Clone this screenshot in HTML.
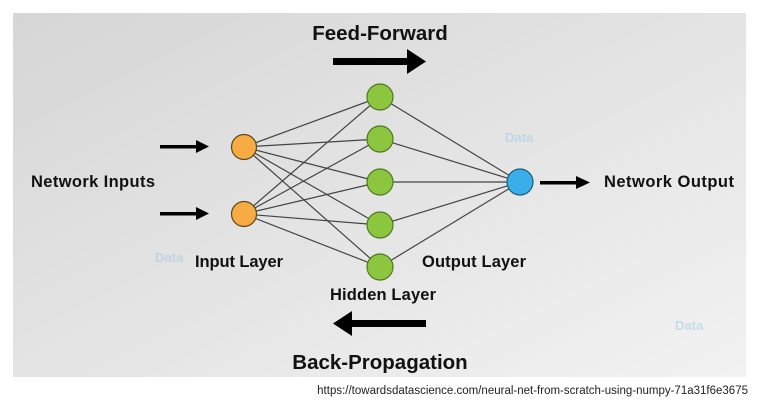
<!DOCTYPE html>
<html><head><style>
body{margin:0;width:760px;height:415px;background:#fff;overflow:hidden;font-family:"Liberation Sans",sans-serif;}
</style></head><body>
<svg width="760" height="415" xmlns="http://www.w3.org/2000/svg">
<defs>
<linearGradient id="bg" x1="0" y1="0" x2="1" y2="1">
<stop offset="0" stop-color="#d6d6d6"/><stop offset="1" stop-color="#f2f2f2"/>
</linearGradient>
</defs>
<rect x="13" y="13" width="733" height="364" fill="url(#bg)"/>
<g stroke="#444" stroke-width="1.2">
<line x1="244" y1="147" x2="380" y2="97"/><line x1="244" y1="147" x2="380" y2="139"/><line x1="244" y1="147" x2="380" y2="182"/><line x1="244" y1="147" x2="380" y2="225"/><line x1="244" y1="147" x2="380" y2="267"/>
<line x1="244" y1="214" x2="380" y2="97"/><line x1="244" y1="214" x2="380" y2="139"/><line x1="244" y1="214" x2="380" y2="182"/><line x1="244" y1="214" x2="380" y2="225"/><line x1="244" y1="214" x2="380" y2="267"/>
<line x1="380" y1="97" x2="520" y2="182"/><line x1="380" y1="139" x2="520" y2="182"/><line x1="380" y1="182" x2="520" y2="182"/><line x1="380" y1="225" x2="520" y2="182"/><line x1="380" y1="267" x2="520" y2="182"/>
</g>
<g stroke="#5a4a1a" stroke-width="1.2" fill="#f6ab45">
<circle cx="244" cy="147" r="12.5"/><circle cx="244" cy="214" r="12.5"/>
</g>
<g stroke="#4b7a1e" stroke-width="1.2" fill="#8cc63f">
<circle cx="380" cy="97" r="13"/><circle cx="380" cy="139" r="13"/><circle cx="380" cy="182" r="13"/><circle cx="380" cy="225" r="13"/><circle cx="380" cy="267" r="13"/>
</g>
<circle cx="520" cy="182" r="13" fill="#3aaee8" stroke="#1d5a80" stroke-width="1.2"/>
<g fill="#000">
<rect x="160" y="145" width="38" height="3.5"/><polygon points="196,140 209,146.5 196,153"/>
<rect x="160" y="212" width="38" height="3.5"/><polygon points="196,207 209,213.5 196,220"/>
<rect x="540" y="181" width="38" height="3.5"/><polygon points="576,176 590,182.5 576,189"/>
<rect x="333" y="58" width="77" height="7"/><polygon points="407,49 426,61.5 407,74"/>
<rect x="349" y="320" width="77" height="7"/><polygon points="352,311 333,323.5 352,336"/>
</g>
<g font-weight="bold" fill="#111" font-size="16.5">
<text x="380" y="40" text-anchor="middle" font-size="20.5">Feed-Forward</text>
<text x="380" y="369" text-anchor="middle" font-size="20.5">Back-Propagation</text>
<text x="31" y="187" textLength="124">Network Inputs</text>
<text x="604" y="187" textLength="130">Network Output</text>
<text x="195" y="267" textLength="88">Input Layer</text>
<text x="422" y="267" textLength="104">Output Layer</text>
<text x="330" y="300" textLength="106">Hidden Layer</text>
</g>
<g fill="#9ccbe4" opacity="0.5" font-size="13" font-weight="bold">
<text x="505" y="142">Data</text><text x="155" y="262">Data</text><text x="675" y="330">Data</text>
</g>
<text x="748" y="394" text-anchor="end" font-size="11.5" fill="#222">https://towardsdatascience.com/neural-net-from-scratch-using-numpy-71a31f6e3675</text>
</svg>
</body></html>
